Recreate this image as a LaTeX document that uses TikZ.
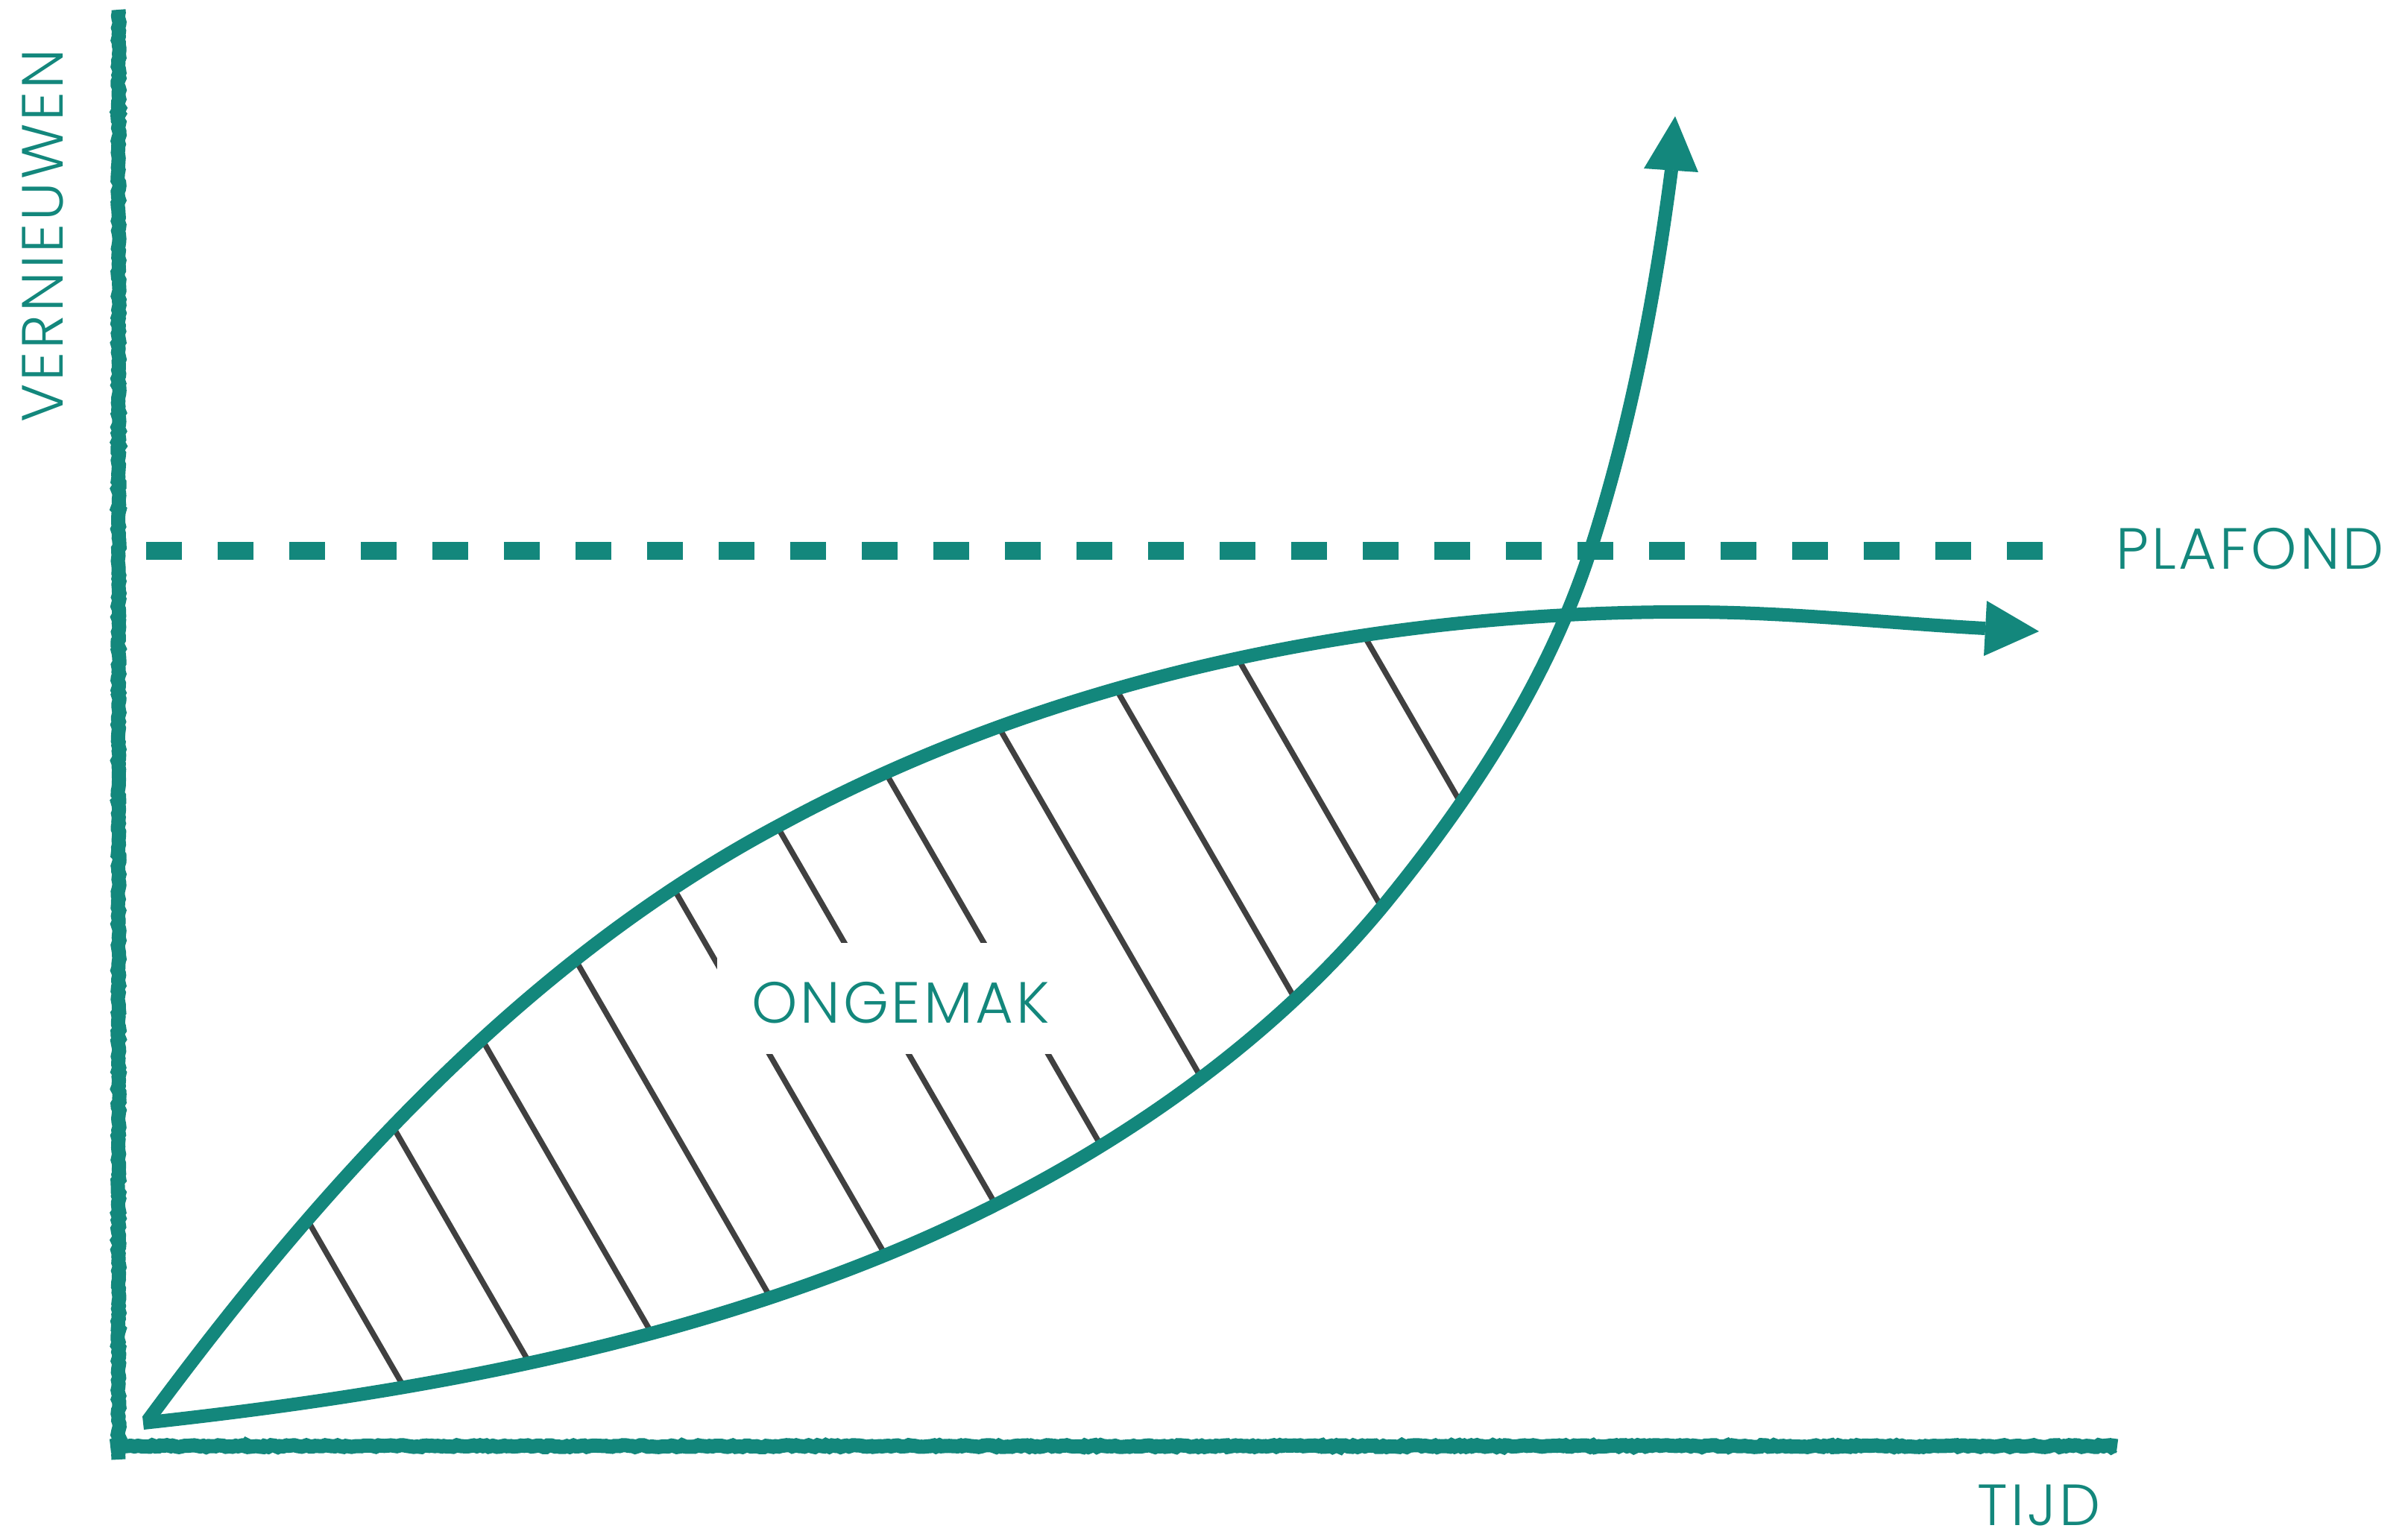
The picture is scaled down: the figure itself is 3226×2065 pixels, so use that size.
\documentclass[tikz,border=0pt]{standalone}
\usepackage{fontspec}
\newfontfamily\lblfont{Poppins Light}[LetterSpace=5]
\usetikzlibrary{decorations.pathmorphing}
\definecolor{tealc}{HTML}{13877C}
\definecolor{hatchc}{HTML}{404040}
\newcommand\myupperpath{(198,1906) .. controls (431,1590) and (704.5,1287.6) .. (1049.3,1105.1)
        .. controls (1417,906) and (1847,820) .. (2263,821)
        .. controls (2400,821) and (2533,836) .. (2663,843)}
\newcommand\mylowerpath{(192,1909) .. controls (534,1872) and (873.4,1812) .. (1187,1684)
        .. controls (1438.6,1581) and (1685,1423) .. (1858,1212)
        .. controls (1973,1071) and (2077.1,912.3) .. (2133,739)
        .. controls (2186.4,573.4) and (2219.6,400.6) .. (2242,228)}
\begin{document}
\begin{tikzpicture}[x=1pt,y=-1pt,
  curve/.style={draw=tealc, line width=18pt, line cap=butt},
  hatchline/.style={draw=hatchc, line width=7.5pt},
  axisline/.style={draw=tealc, line width=19pt, decorate,
     decoration={random steps, segment length=4pt, amplitude=1.3pt}},
  plafondline/.style={draw=tealc, line width=24pt, dash pattern=on 48pt off 48pt},
  lbl/.style={text=tealc, font=\lblfont\fontsize{78}{82}\selectfont, inner sep=0pt, text depth=0pt},
  headtri/.style={fill=tealc, draw=none}]
\pgfmathsetseed{7}
\useasboundingbox (0,0) rectangle (3226,2065);

% axes
\draw[axisline] (159,13) -- (159,1958);
\draw[axisline] (148,1940) -- (2840,1940);

% ceiling
\draw[plafondline] (196,739) -- (2740,739);

% hatching inside the lens (below the upper curve and left of the S-curve)
\begin{scope}
  \clip \myupperpath -- (3226,843) -- (3226,2065) -- (198,2065) -- cycle;
  \clip \mylowerpath -- (2242,0) -- (0,0) -- (0,1909) -- cycle;
  \foreach \k in {0,...,10}
    \draw[hatchline] ({-532.5+187*\k+404.1},700) -- ({-532.5+187*\k+1125.8},1950);
\end{scope}
\fill[white] (962,1265) rectangle (1454,1414);

% upper curve (levels off under the ceiling)
\draw[curve] \myupperpath;
% S-curve (breaks through the ceiling)
\draw[curve] \mylowerpath;

% arrowheads
\fill[headtri] (2247,156) -- (2278,231) -- (2205,226) -- cycle;
\fill[headtri] (2735,847) -- (2661,880) -- (2665,806) -- cycle;

% labels
\node[lbl, anchor=base, rotate=90] (vern) at (84,316) {VERNIEUWEN};
\node[lbl, anchor=base] (plafond) at (3018,763) {PLAFOND};
\node[lbl, anchor=base] (tijd) at (2735,2046) {TIJD};
\node[lbl, anchor=base] (ongemak) at (1208,1372) {ONGEMAK};
\end{tikzpicture}
\end{document}
